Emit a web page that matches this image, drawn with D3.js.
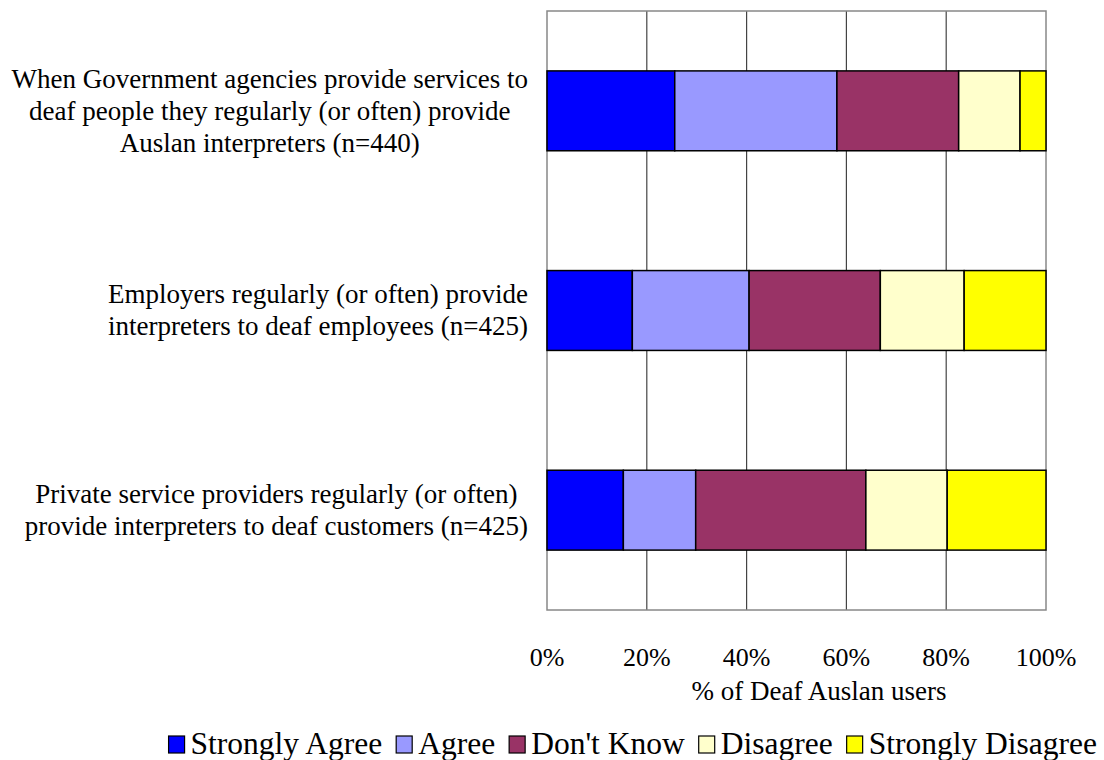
<!DOCTYPE html>
<html>
<head>
<meta charset="utf-8">
<script src="https://cdn.jsdelivr.net/npm/d3@7"></script>
<style>
	body { margin: 0; background: #fff; }
	svg text { font-family: 'Liberation Serif', 'Times New Roman', serif; fill: #000; }
</style>
</head>
<body>
<svg id="chart" width="1104" height="760"></svg>
<script>
'use strict';

var aQuestions = [
	['When Government agencies provide services to', 'deaf people they regularly (or often) provide', 'Auslan interpreters (n=440)'],
	['Employers regularly (or often) provide', 'interpreters to deaf employees (n=425)'],
	['Private service providers regularly (or often)', 'provide interpreters to deaf customers (n=425)']
];
var aLegends = ['Strongly Agree', 'Agree', "Don't Know", 'Disagree', 'Strongly Disagree'];
var aStronglyAgree = [25.6, 17.1, 15.3];
var aAgree = [32.5, 23.4, 14.5];
var aDontKnow = [24.4, 26.3, 34.1];
var aDisagree = [12.3, 16.8, 16.3];
var aStronglyDisagree = [5.2, 16.4, 19.8];
var aTicks = [0, 20, 40, 60, 80, 100];
var aColors = ['#0000ff', '#9999ff', '#993366', '#ffffcc', '#ffff00'];

var sSvg = d3.select('#chart');
var rPlot = {left: 547, top: 11, right: 1046, bottom: 610};

// build rows of boxes
var aSeries = [aStronglyAgree, aAgree, aDontKnow, aDisagree, aStronglyDisagree];
var aData = aQuestions.map(function(q, i)
{
	var x0 = 0;
	var boxes = aSeries.map(function(s, j)
	{
		var box = {x0: x0, x1: x0 + s[i], color: aColors[j]};
		x0 += s[i];
		return box;
	});
	// close to 100% exactly
	boxes[boxes.length-1].x1 = 100;
	return {key: i, lines: q, boxes: boxes};
});

var scaleX = d3.scaleLinear().domain([0, 100]).range([rPlot.left, rPlot.right]);
var scaleY = d3.scaleBand()
	.domain(aData.map(function(d) { return d.key; }))
	.range([rPlot.top, rPlot.bottom])
	.paddingInner(0.6)
	.paddingOuter(0.3);

// gridlines
sSvg.append('g').selectAll('line')
	.data(aTicks.slice(1, -1))
	.enter().append('line')
		.attr('x1', function(d) { return scaleX(d); })
		.attr('x2', function(d) { return scaleX(d); })
		.attr('y1', rPlot.top)
		.attr('y2', rPlot.bottom)
		.attr('stroke', '#444')
		.attr('stroke-width', 1.2);

// plot border
sSvg.append('rect')
	.attr('x', rPlot.left)
	.attr('y', rPlot.top)
	.attr('width', rPlot.right - rPlot.left)
	.attr('height', rPlot.bottom - rPlot.top)
	.attr('fill', 'none')
	.attr('stroke', '#888')
	.attr('stroke-width', 1.5);

// bars
var sBars = sSvg.append('g').selectAll('.bar')
	.data(aData)
	.enter().append('g')
		.attr('class', 'bar')
		.attr('transform', function(d) { return 'translate(0,' + scaleY(d.key) + ')'; });

sBars.selectAll('rect')
	.data(function(d) { return d.boxes; })
	.enter().append('rect')
		.attr('x', function(b) { return scaleX(b.x0); })
		.attr('width', function(b) { return scaleX(b.x1) - scaleX(b.x0); })
		.attr('height', scaleY.bandwidth())
		.attr('fill', function(b) { return b.color; })
		.attr('stroke', '#000')
		.attr('stroke-width', 1.5);

// category labels
var nLineH = 32;
sBars.each(function(d)
{
	var sText = d3.select(this).append('text')
		.attr('text-anchor', 'middle')
		.style('font-size', '27px');
	var nMid = scaleY.bandwidth() / 2;
	var nOff = (d.lines.length - 1) / 2;
	d.lines.forEach(function(line, i)
	{
		sText.append('tspan')
			.attr('x', 0)
			.attr('y', nMid + (i - nOff) * nLineH + 9)
			.text(line);
	});
	// centre the block, right aligned near the axis
	var nW = sText.node().getBBox().width;
	sText.attr('transform', 'translate(' + (528 - nW / 2) + ',0)');
});

// x axis labels
sSvg.append('g').selectAll('text')
	.data(aTicks)
	.enter().append('text')
		.attr('x', function(d) { return scaleX(d); })
		.attr('y', 666)
		.attr('text-anchor', 'middle')
		.style('font-size', '26px')
		.text(function(d) { return d + '%'; });

sSvg.append('text')
	.attr('x', 819)
	.attr('y', 700)
	.attr('text-anchor', 'middle')
	.style('font-size', '27px')
	.text('% of Deaf Auslan users');

// legend
var sLegend = sSvg.append('g').attr('class', 'legendbox');
var nX = 0;
aLegends.forEach(function(name, i)
{
	var sItem = sLegend.append('g').attr('transform', 'translate(' + nX + ',0)');
	sItem.append('rect')
		.attr('x', 0).attr('y', -17)
		.attr('width', 16).attr('height', 17)
		.attr('fill', aColors[i])
		.attr('stroke', '#000')
		.attr('stroke-width', 1.2);
	var sT = sItem.append('text')
		.attr('x', 22).attr('y', 1)
		.style('font-size', '31.5px')
		.text(name);
	nX += 22 + sT.node().getComputedTextLength() + 14;
});
var nLegW = sLegend.node().getBBox().width;
sLegend.attr('transform', 'translate(' + (1097 - nLegW) + ',753)');
</script>
</body>
</html>
